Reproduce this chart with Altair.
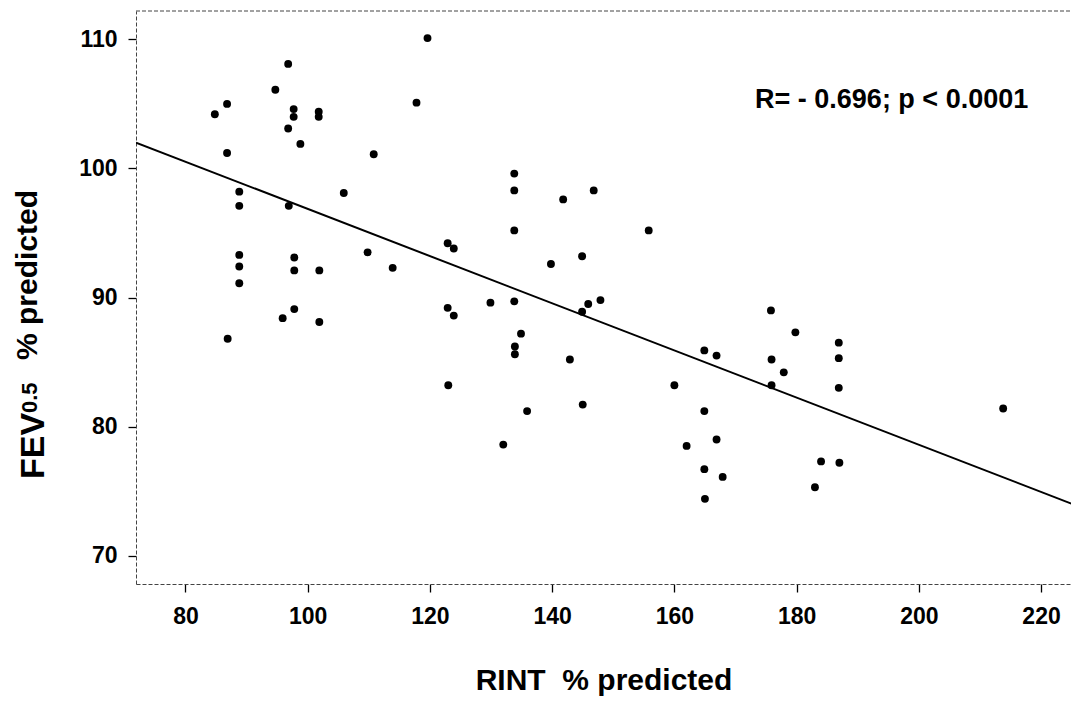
import altair as alt
import pandas as pd

# RINT % predicted (x) and FEV0.5 % predicted (y)
rint = [119.6, 96.8, 94.7, 86.8, 84.8, 97.7, 97.7, 101.8, 101.8, 96.8,
        117.8, 98.8, 86.8, 110.8, 88.8, 88.8, 96.9, 105.9, 88.8, 88.8,
        88.8, 97.8, 97.8, 101.9, 109.8, 113.9, 97.8, 95.9, 101.9, 86.9,
        133.8, 133.8, 141.8, 146.8, 133.8, 155.8, 122.9, 123.9, 144.9, 139.8,
        129.9, 133.8, 122.9, 123.9, 145.9, 147.9, 144.9, 134.9, 133.9, 133.9,
        142.9, 123.0, 164.9, 166.9, 160.0, 145.0, 135.9, 164.9, 132.0, 162.0,
        166.9, 164.9, 167.9,
        175.8, 179.8, 186.9, 186.9, 175.9, 177.9, 175.9, 186.9, 213.8, 184.0,
        187.0, 183.0, 165.0]
fev = [110.1, 108.1, 106.1, 105.0, 104.2, 104.6, 104.0, 104.4, 104.0, 103.1,
       105.1, 101.9, 101.2, 101.1, 98.2, 97.1, 97.1, 98.1, 93.3, 92.4,
       91.1, 93.1, 92.1, 92.1, 93.5, 92.3, 89.1, 88.4, 88.1, 86.8,
       99.6, 98.3, 97.6, 98.3, 95.2, 95.2, 94.2, 93.8, 93.2, 92.6,
       89.6, 89.7, 89.2, 88.6, 89.5, 89.8, 88.9, 87.2, 86.2, 85.6,
       85.2, 83.2, 85.9, 85.5, 83.2, 81.7, 81.2, 81.2, 78.6, 78.5,
       79.0, 76.7, 76.1,
       89.0, 87.3, 86.5, 85.3, 85.2, 84.2, 83.2, 83.0, 81.4, 77.3,
       77.2, 75.3, 74.4]

# regression line end points
line_x = [71.9, 226.2]
line_y = [102.0, 73.8]

x_ticks = [80, 100, 120, 140, 160, 180, 200, 220]
y_ticks = [70, 80, 90, 100, 110]
x_domain = [71.9, 224.9]
y_domain = [67.8, 112.2]

annotation = ["R= - 0.696; p < 0.0001"]
ann_x = [173.2]
ann_y = [104.7]

FONT = "Liberation Sans"
W, H = 935, 573

pts = pd.DataFrame({"rint": rint, "fev": fev})
line_df = pd.DataFrame({"rint": line_x, "fev": line_y})
ann_df = pd.DataFrame({"rint": ann_x, "fev": ann_y, "label": annotation})
one = pd.DataFrame({"k": [0]})

xs = alt.Scale(domain=x_domain, nice=False, zero=False)
ys = alt.Scale(domain=y_domain, nice=False, zero=False)

x_axis = alt.Axis(values=x_ticks, title="RINT\u00a0\u00a0% predicted", titleFontSize=30,
                  titleFont=FONT, titleFontWeight="bold", titleColor="black",
                  titleBaseline="alphabetic", titleY=105,
                  labelPadding=13)
y_axis = alt.Axis(values=y_ticks, title=None, labelPadding=11)

points = alt.Chart(pts).mark_circle(size=62, color="black", opacity=1).encode(
    x=alt.X("rint:Q", scale=xs, axis=x_axis),
    y=alt.Y("fev:Q", scale=ys, axis=y_axis),
)

reg = alt.Chart(line_df).mark_line(color="black", strokeWidth=2, clip=True).encode(
    x=alt.X("rint:Q", scale=xs),
    y=alt.Y("fev:Q", scale=ys),
)

ann = alt.Chart(ann_df).mark_text(font=FONT, fontWeight="bold", fontSize=27,
                                  align="left", baseline="alphabetic", color="black").encode(
    x=alt.X("rint:Q", scale=xs),
    y=alt.Y("fev:Q", scale=ys),
    text="label:N",
)

top_border = alt.Chart(one).mark_rule(color="#444", strokeWidth=1, strokeDash=[4, 2]).encode(
    x=alt.value(0), x2=alt.value(W), y=alt.value(0)
)

t_fev = alt.Chart(one).mark_text(text="FEV", font=FONT, fontWeight="bold", fontSize=34,
                                 angle=270, align="left", baseline="alphabetic",
                                 color="black").encode(x=alt.value(-92), y=alt.value(468))
t_sub = alt.Chart(one).mark_text(text="0.5", font=FONT, fontWeight="bold", fontSize=22,
                                 angle=270, align="left", baseline="alphabetic",
                                 color="black").encode(x=alt.value(-99), y=alt.value(402))
t_pred = alt.Chart(one).mark_text(text="% predicted", font=FONT, fontWeight="bold", fontSize=30,
                                  angle=270, align="left", baseline="alphabetic",
                                  color="black").encode(x=alt.value(-99), y=alt.value(349))

chart = alt.layer(top_border, reg, points, ann, t_fev, t_sub, t_pred).properties(
    width=W, height=H,
    autosize=alt.AutoSizeParams(type="none"),
    padding={"left": 128, "top": 3, "right": 0, "bottom": 114},
    background="white",
).configure_view(strokeWidth=0).configure_axis(
    labelFont=FONT, labelFontSize=23, labelFontWeight="bold", labelColor="black",
    tickColor="black", tickSize=8, tickWidth=1.3,
    domainColor="#444", domainWidth=1, domainDash=[4, 2], grid=False,
)

chart.save("out.html", embed_options={"renderer": "svg", "actions": False})
